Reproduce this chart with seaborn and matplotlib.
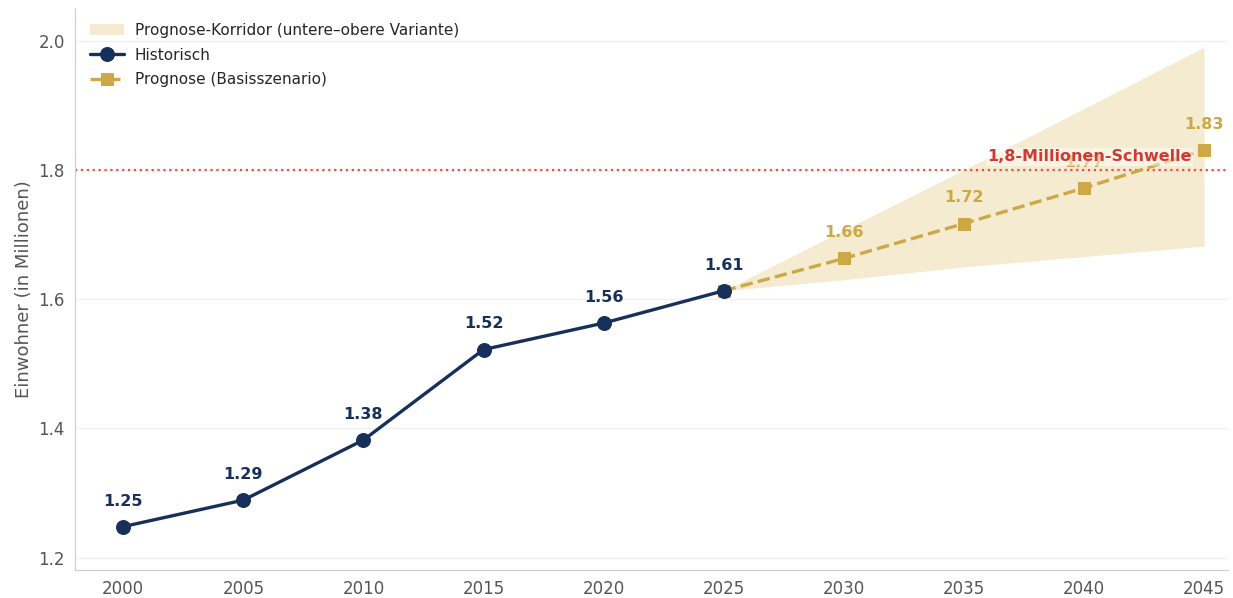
import numpy as np
import pandas as pd
import matplotlib.pyplot as plt
import seaborn as sns

years_hist = [2000, 2005, 2010, 2015, 2020, 2025]
pop_hist = [1.248, 1.289, 1.382, 1.522, 1.563, 1.613]

years_prog = [2025, 2030, 2035, 2040, 2045]
pop_prog = [1.613, 1.663, 1.717, 1.772, 1.831]
prog_upper = [1.613, 1.707, 1.800, 1.895, 1.990]
prog_lower = [1.613, 1.630, 1.650, 1.666, 1.682]

threshold = 1.8
navy = '#16305a'
gold = '#cca846'
red = '#d03a35'

sns.set_style('white')
plt.rcParams['font.family'] = ['DejaVu Sans']

df_hist = pd.DataFrame({'Jahr': years_hist, 'Einwohner': pop_hist})
df_prog = pd.DataFrame({'Jahr': years_prog, 'Einwohner': pop_prog})

fig, ax = plt.subplots(figsize=(12.33, 5.98), dpi=100)

ax.fill_between(years_prog, prog_lower, prog_upper, color='#f3e6c6', alpha=0.8,
                linewidth=0, label='Prognose-Korridor (untere–obere Variante)', zorder=1)
sns.lineplot(data=df_hist, x='Jahr', y='Einwohner', ax=ax, color=navy, linewidth=2.4,
             marker='o', markersize=10, markeredgecolor=navy, label='Historisch', zorder=4)
sns.lineplot(data=df_prog, x='Jahr', y='Einwohner', ax=ax, color=gold, linewidth=2.4,
             linestyle='--', marker='s', markersize=9, markeredgecolor=gold,
             label='Prognose (Basisszenario)', zorder=3)

ax.axhline(threshold, color='#e8504a', linestyle=':', linewidth=1.6, zorder=2)

for x, y in zip(years_hist, pop_hist):
    ax.text(x, y + 0.028, f'{y:.2f}', ha='center', va='bottom', fontsize=11.5,
            fontweight='bold', color=navy, zorder=5)
for x, y in zip(years_prog[1:], pop_prog[1:]):
    ax.text(x, y + 0.028, f'{y:.2f}', ha='center', va='bottom', fontsize=11.5,
            fontweight='bold', color=gold, zorder=5)

ax.text(2044.5, threshold + 0.009, '1,8-Millionen-Schwelle', ha='right', va='bottom',
        fontsize=11.5, fontweight='bold', color=red, zorder=6,
        bbox=dict(facecolor='white', alpha=0.45, edgecolor='none', pad=1))

ax.set_xlim(1998, 2046)
ax.set_ylim(1.181, 2.051)
ax.set_xticks(list(range(2000, 2050, 5)))
ax.set_yticks([1.2, 1.4, 1.6, 1.8, 2.0])
ax.set_xlabel('')
ax.set_ylabel('Einwohner (in Millionen)', fontsize=13, color='#555555')
ax.tick_params(axis='both', labelsize=12, colors='#555555', length=4, color='#aaaaaa')
ax.grid(axis='y', color='#f0f0f0', linewidth=1)
sns.despine(ax=ax)
for s in ['left', 'bottom']:
    ax.spines[s].set_color('#cccccc')

ax.legend(loc='upper left', frameon=False, fontsize=11, handlelength=2.2,
          borderaxespad=0.6, labelspacing=0.62, handletextpad=0.7)

fig.subplots_adjust(left=0.061, right=0.996, top=0.987, bottom=0.047)
fig.savefig('out.png', dpi=100)
